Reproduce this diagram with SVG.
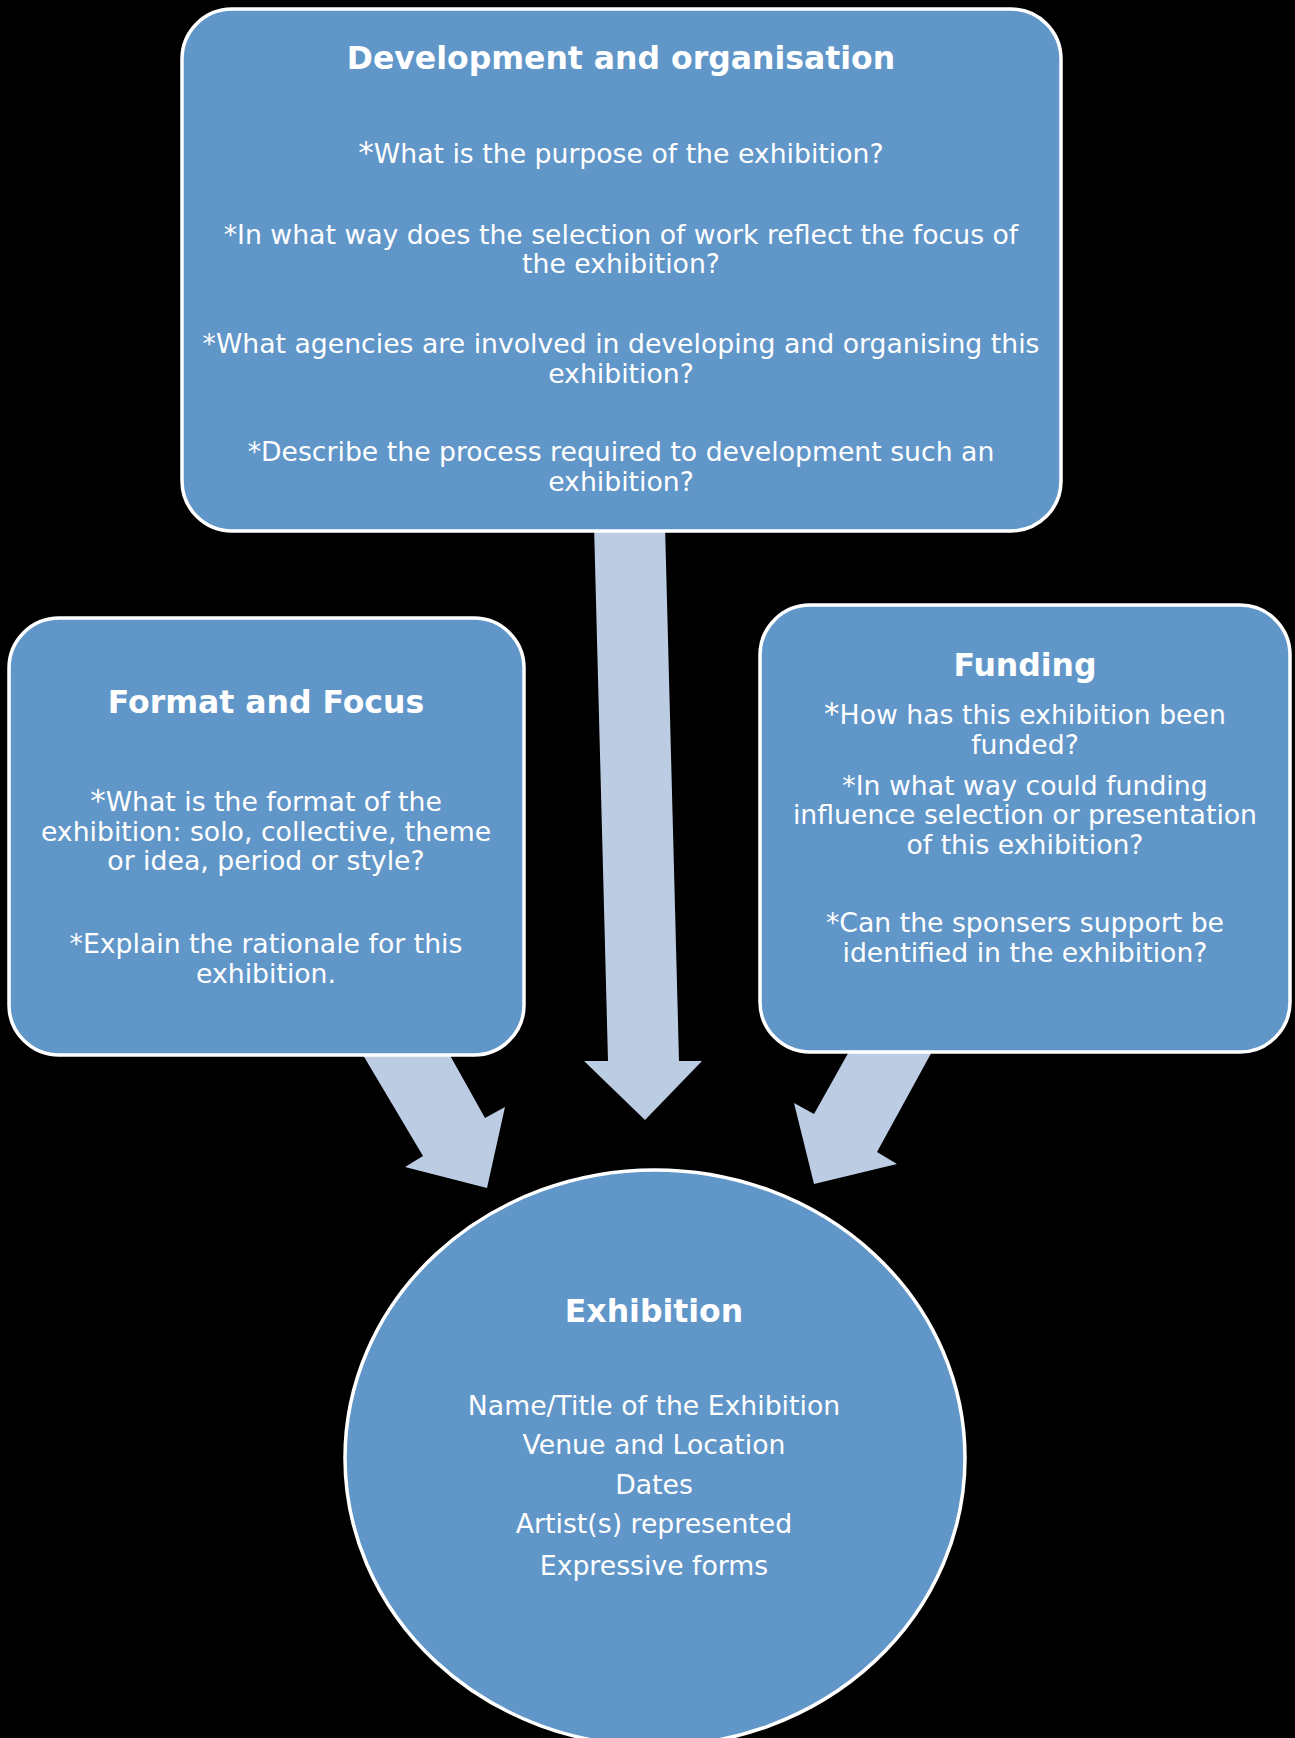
<svg xmlns="http://www.w3.org/2000/svg" width="1295" height="1738" viewBox="0 0 1295 1738">
  <style>
    .box { fill: #6196C9; stroke: #FFFFFF; stroke-width: 3.5; }
    .arrow { fill: #BCCCE3; stroke: none; }
    .title { font-family: "DejaVu Sans", Verdana, sans-serif; font-weight: bold; font-size: 31.5px; fill: #FFFFFF; text-anchor: middle; }
    .body { font-family: "DejaVu Sans", Verdana, sans-serif; font-size: 26.7px; fill: #FFFFFF; text-anchor: middle; }
    .big { font-size: 31px; }
  </style>
  <rect x="0" y="0" width="1295" height="1738" fill="#000000"/>

  <g id="connectors">
    <polygon class="arrow" points="594,525 665,525 679,1061 702,1061 645,1120 584,1061 608,1061"/>
    <polygon class="arrow" points="360,1050 447,1050 485,1118 505,1107 487,1188 405,1167 423,1156"/>
    <polygon class="arrow" points="851,1048 934,1048 877,1152 897,1164 814,1184 794,1103 814,1114"/>
  </g>

  <g id="node-development">
    <rect class="box" x="182" y="9" width="879" height="522" rx="50" ry="50"/>
    <text class="title" x="621" y="69">Development and organisation</text>
    <text class="body" x="621" y="163"><tspan class="big">*</tspan>What is the purpose of the exhibition?</text>
    <text class="body" x="621" y="244">*In what way does the selection of work reflect the focus of</text>
    <text class="body" x="621" y="273">the exhibition?</text>
    <text class="body" x="621" y="353">*What agencies are involved in developing and organising this</text>
    <text class="body" x="621" y="383">exhibition?</text>
    <text class="body" x="621" y="461">*Describe the process required to development such an</text>
    <text class="body" x="621" y="491">exhibition?</text>
  </g>

  <g id="node-format">
    <rect class="box" x="9" y="618" width="515" height="437" rx="50" ry="50"/>
    <text class="title" x="266" y="713">Format and Focus</text>
    <text class="body" x="266" y="811"><tspan class="big">*</tspan>What is the format of the</text>
    <text class="body" x="266" y="841">exhibition: solo, collective, theme</text>
    <text class="body" x="266" y="870">or idea, period or style?</text>
    <text class="body" x="266" y="953">*Explain the rationale for this</text>
    <text class="body" x="266" y="983">exhibition.</text>
  </g>

  <g id="node-funding">
    <rect class="box" x="760" y="605" width="530" height="447" rx="50" ry="50"/>
    <text class="title" x="1025" y="676">Funding</text>
    <text class="body" x="1025" y="724"><tspan class="big">*</tspan>How has this exhibition been</text>
    <text class="body" x="1025" y="754">funded?</text>
    <text class="body" x="1025" y="795">*In what way could funding</text>
    <text class="body" x="1025" y="824">influence selection or presentation</text>
    <text class="body" x="1025" y="854">of this exhibition?</text>
    <text class="body" x="1025" y="932">*Can the sponsers support be</text>
    <text class="body" x="1025" y="962">identified in the exhibition?</text>
  </g>

  <g id="node-exhibition">
    <ellipse class="box" cx="655" cy="1458" rx="310" ry="288"/>
    <text class="title" x="654" y="1322">Exhibition</text>
    <text class="body" x="654" y="1415">Name/Title of the Exhibition</text>
    <text class="body" x="654" y="1454">Venue and Location</text>
    <text class="body" x="654" y="1494">Dates</text>
    <text class="body" x="654" y="1533">Artist(s) represented</text>
    <text class="body" x="654" y="1575">Expressive forms</text>
  </g>
</svg>
